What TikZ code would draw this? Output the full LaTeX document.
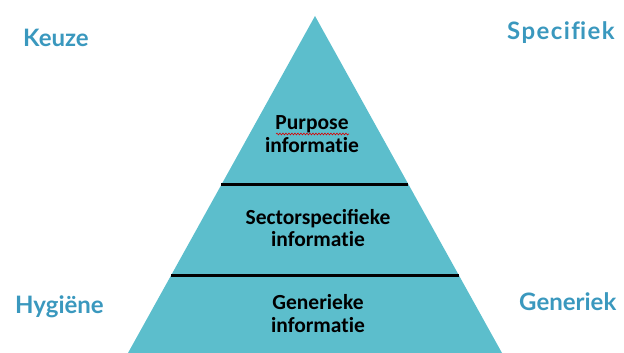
\documentclass[tikz,border=0pt]{standalone}
\usepackage{fontspec}
\setmainfont{Lato}
\newfontfamily\calfont{Carlito}
\newfontfamily\widelato[LetterSpace=6]{Lato}
\usetikzlibrary{decorations.pathmorphing}
\definecolor{pyrfill}{RGB}{92,190,204}
\definecolor{labelblue}{RGB}{58,152,190}
\newcommand{\infotxt}{informat\kern0pt ie}
\tikzset{
  outer/.style={font=\bfseries\fontsize{24}{28}\selectfont, text=labelblue, anchor=base west, inner sep=0pt},
  inner/.style={font=\calfont\bfseries\fontsize{21.5}{25}\selectfont, text=black, anchor=base, inner sep=0pt},
  divider/.style={line width=3pt, black},
  wavy/.style={red!85!black, line width=0.6pt, decorate, decoration={snake, segment length=3pt, amplitude=0.9pt}}
}
\begin{document}
\begin{tikzpicture}[x=1pt,y=1pt]
\useasboundingbox (0,0) rectangle (624,353);
\clip (0,0) rectangle (624,353);
% pyramid
\coordinate (apex) at (315,337);
\coordinate (bl) at (128,0);
\coordinate (br) at (502,0);
\fill[pyrfill] (apex) -- (bl) -- (br) -- cycle;
% dividers
\coordinate (d1l) at (221,168);
\coordinate (d1r) at (408,168);
\coordinate (d2l) at (171,77);
\coordinate (d2r) at (459,77);
\draw[divider] (d1l) -- (d1r);
\draw[divider] (d2l) -- (d2r);
% inner texts
\node[inner] (p1) at (312,223) {Purpose};
\node[inner] (p2) at (312,200) {\infotxt};
\coordinate (w1) at (276,219);
\coordinate (w2) at (349,219);
\draw[wavy] (w1) -- (w2);
\node[inner] (s1) at (318,128) {Sectorspecifieke};
\node[inner] (s2) at (318,106) {\infotxt};
\node[inner] (g1) at (318,43) {Generieke};
\node[inner] (g2) at (318,20) {\infotxt};
% outer labels
\node[outer] (keuze) at (23,306) {Keuze};
\node[outer, font=\widelato\bfseries\fontsize{24}{28}\selectfont] (spec) at (507,313) {Specif\kern0pt iek};
\node[outer] (hyg) at (15,39) {Hygiëne};
\node[outer] (gen) at (519,42) {Generiek};
\end{tikzpicture}
\end{document}
